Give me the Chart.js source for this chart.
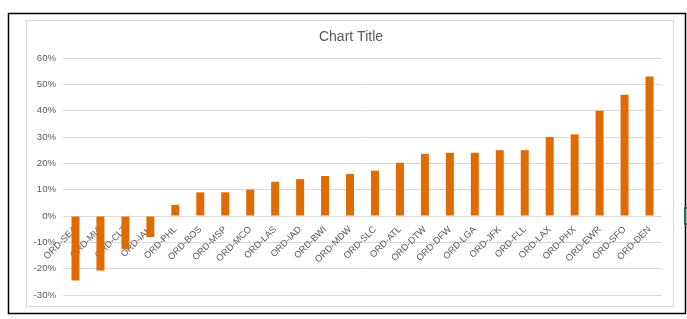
<!DOCTYPE html>
<html>
<head>
<meta charset="utf-8">
<script src="https://cdn.jsdelivr.net/npm/chart.js@4.4.1/dist/chart.umd.min.js"></script>
<style>
  html, body { margin: 0; padding: 0; background: #fff; }
  #wrap { position: relative; width: 687px; height: 319px; }
</style>
</head>
<body>
<div id="wrap"><canvas id="c" width="687" height="319"></canvas></div>
<script>
const categories = ["ORD-SEA","ORD-MIA","ORD-CLT","ORD-IAH","ORD-PHL","ORD-BOS","ORD-MSP","ORD-MCO","ORD-LAS","ORD-IAD","ORD-BWI","ORD-MDW","ORD-SLC","ORD-ATL","ORD-DTW","ORD-DFW","ORD-LGA","ORD-JFK","ORD-FLL","ORD-LAX","ORD-PHX","ORD-EWR","ORD-SFO","ORD-DEN"];
const values = [-24.5,-20.7,-12.5,-8,4.2,9,9,10,13,14,15.2,16,17.2,20.2,23.6,24,24,25,25,30,31,40,46,53];
const yMin = -30, yMax = 60, yStep = 10;
const chartTitle = "Chart Title";

const frame = {
  id: 'frame',
  beforeDraw(chart) {
    const ctx = chart.ctx;
    ctx.save();
    ctx.fillStyle = '#ffffff';
    ctx.fillRect(0, 0, chart.width, chart.height);
    ctx.strokeStyle = '#d9d9d9';
    ctx.lineWidth = 1;
    ctx.strokeRect(26.5, 20.5, 647, 286);
    ctx.strokeStyle = '#000000';
    ctx.lineWidth = 1.5;
    ctx.strokeRect(8.5, 13.5, 677, 300);
    ctx.strokeStyle = '#217346';
    ctx.lineWidth = 2;
    ctx.strokeRect(685, 208, 8, 16);
    // chart title
    ctx.fillStyle = '#595959';
    ctx.font = '14px "Liberation Sans", Arial, sans-serif';
    ctx.textAlign = 'center';
    ctx.textBaseline = 'middle';
    ctx.fillText(chartTitle, 351, 37);
    ctx.restore();
  }
};

new Chart(document.getElementById('c'), {
  type: 'bar',
  data: {
    labels: categories,
    datasets: [{
      data: values,
      backgroundColor: '#E06B00',
      borderWidth: 0,
      categoryPercentage: 1,
      barPercentage: 0.32
    }]
  },
  options: {
    responsive: false,
    animation: false,
    devicePixelRatio: 1,
    layout: { padding: { left: 33, right: 25, top: 58, bottom: 24 } },
    plugins: {
      legend: { display: false },
      tooltip: { enabled: false },
      title: { display: false }
    },
    scales: {
      x: {
        position: { y: 0 },
        z: 1,
        grid: { display: false },
        border: { display: false },
        ticks: {
          autoSkip: false,
          minRotation: 45,
          maxRotation: 45,
          padding: 0,
          color: '#595959',
          font: { family: 'Liberation Sans, Arial, sans-serif', size: 9.3 }
        },
        afterFit(s) { s.height = 0; s.paddingLeft = 0; s.paddingRight = 0; }
      },
      y: {
        min: yMin,
        max: yMax,
        grid: { color: '#d9d9d9', drawTicks: false, lineWidth: 1 },
        border: { display: false },
        ticks: {
          stepSize: yStep,
          padding: 7,
          color: '#595959',
          font: { family: 'Liberation Sans, Arial, sans-serif', size: 9.6 },
          callback: v => v + '%'
        },
        afterFit(s) { s.width = 30; }
      }
    }
  },
  plugins: [frame]
});
</script>
</body>
</html>
